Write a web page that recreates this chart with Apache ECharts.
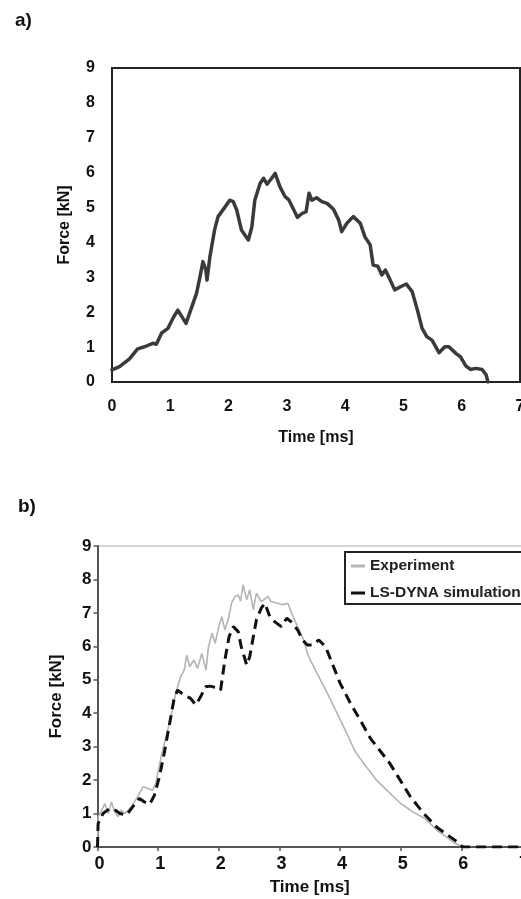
<!DOCTYPE html>
<html>
<head>
<meta charset="utf-8">
<script src="https://cdn.jsdelivr.net/npm/echarts@6/dist/echarts.min.js"></script>
<style>
  html, body { margin: 0; padding: 0; background: #fff; }
  #chart { width: 521px; height: 899px; }
</style>
</head>
<body>
<div id="chart"></div>
<script>
// panel a) - measured force
var aTime = [0.0, 0.13, 0.30, 0.44, 0.56, 0.70, 0.76, 0.85, 0.96, 1.06, 1.13, 1.27, 1.36, 1.45, 1.51, 1.56, 1.61, 1.63, 1.68, 1.76,
  1.82, 1.94, 2.02, 2.08, 2.14, 2.22, 2.34, 2.40, 2.45, 2.54, 2.60, 2.66, 2.74, 2.80, 2.88, 2.97, 3.03, 3.12, 3.18, 3.26,
  3.33, 3.38, 3.43, 3.51, 3.60, 3.69, 3.80, 3.89, 3.94, 4.03, 4.14, 4.26, 4.34, 4.43, 4.48, 4.56, 4.63, 4.69, 4.76, 4.85,
  4.95, 5.05, 5.15, 5.24, 5.32, 5.40, 5.49, 5.61, 5.71, 5.78, 5.90, 5.98, 6.07, 6.15, 6.24, 6.35, 6.42, 6.45];
var aForce = [0.35, 0.44, 0.66, 0.95, 1.01, 1.11, 1.08, 1.40, 1.54, 1.87, 2.06, 1.68, 2.11, 2.54, 3.02, 3.45, 3.21, 2.92, 3.59, 4.36,
  4.74, 5.02, 5.21, 5.17, 4.93, 4.36, 4.07, 4.45, 5.21, 5.69, 5.84, 5.67, 5.84, 5.98, 5.60, 5.31, 5.23, 4.93, 4.72, 4.83,
  4.88, 5.41, 5.21, 5.28, 5.17, 5.12, 4.95, 4.64, 4.31, 4.55, 4.74, 4.55, 4.16, 3.93, 3.35, 3.32, 3.07, 3.21, 2.97, 2.64,
  2.73, 2.81, 2.59, 2.06, 1.54, 1.30, 1.20, 0.84, 1.01, 1.01, 0.82, 0.72, 0.46, 0.36, 0.39, 0.36, 0.20, 0.0];

// panel b) - experiment
var expTime = [0.0, 0.01, 0.07, 0.12, 0.18, 0.23, 0.28, 0.34, 0.39, 0.45, 0.56, 0.66, 0.75, 0.83, 0.91, 0.96, 1.05, 1.13, 1.21, 1.29,
  1.37, 1.43, 1.47, 1.52, 1.59, 1.65, 1.72, 1.79, 1.83, 1.89, 1.94, 2.00, 2.05, 2.10, 2.16, 2.21, 2.27, 2.32, 2.36, 2.40,
  2.46, 2.51, 2.57, 2.62, 2.70, 2.81, 2.86, 2.97, 3.05, 3.14, 3.19, 3.30, 3.41, 3.46, 3.51, 3.62, 3.79, 3.95, 4.11, 4.25,
  4.41, 4.60, 4.80, 5.00, 5.20, 5.40, 5.60, 5.75, 5.88, 6.00];
var expForce = [0.0, 0.9, 1.1, 1.3, 1.0, 1.35, 1.06, 0.91, 1.1, 1.0, 1.2, 1.5, 1.8, 1.75, 1.7, 1.9, 2.7, 3.3, 3.9, 4.6,
  5.09, 5.29, 5.74, 5.39, 5.59, 5.34, 5.79, 5.29, 5.99, 6.39, 6.09, 6.59, 6.89, 6.49, 6.84, 7.29, 7.49, 7.54, 7.35, 7.84,
  7.39, 7.69, 7.09, 7.59, 7.34, 7.49, 7.34, 7.29, 7.24, 7.29, 7.04, 6.59, 6.14, 5.79, 5.59, 5.19, 4.6, 4.0, 3.4, 2.85,
  2.45, 2.0, 1.65, 1.3, 1.05, 0.85, 0.5, 0.3, 0.12, 0.02];

// panel b) - LS-DYNA simulation
var simTime = [0.0, 0.01, 0.09, 0.20, 0.28, 0.37, 0.48, 0.58, 0.69, 0.77, 0.86, 0.94, 1.02, 1.10, 1.18, 1.26, 1.32, 1.43, 1.53, 1.62,
  1.70, 1.78, 1.86, 1.94, 2.03, 2.10, 2.17, 2.24, 2.32, 2.37, 2.46, 2.51, 2.57, 2.62, 2.70, 2.76, 2.84, 2.92, 3.03, 3.12,
  3.19, 3.30, 3.38, 3.46, 3.54, 3.65, 3.76, 3.87, 4.00, 4.17, 4.33, 4.50, 4.65, 4.82, 4.94, 5.16, 5.38, 5.59, 5.81, 5.95,
  6.02, 7.0];
var simForce = [0.0, 0.7, 1.0, 1.15, 1.12, 1.0, 0.96, 1.2, 1.45, 1.35, 1.28, 1.55, 2.1, 2.8, 3.6, 4.4, 4.69, 4.54, 4.45, 4.25,
  4.49, 4.79, 4.81, 4.77, 4.69, 5.59, 6.29, 6.59, 6.44, 5.99, 5.44, 5.69, 6.29, 6.79, 7.14, 7.29, 6.89, 6.74, 6.59, 6.84,
  6.74, 6.49, 6.19, 6.04, 6.04, 6.19, 5.99, 5.49, 4.9, 4.3, 3.8, 3.25, 2.9, 2.5, 2.15, 1.5, 1.0, 0.6, 0.31, 0.13,
  0.0, 0.0];

function pairs(xs, ys) {
  return xs.map(function (x, i) { return [x, ys[i]]; });
}

var font = 'Liberation Sans, Arial, sans-serif';
var chart = echarts.init(document.getElementById('chart'));

var option = {
  animation: false,
  backgroundColor: '#fff',
  title: [
    { text: 'a)', left: 10, top: 6, textStyle: { fontFamily: font, fontSize: 19, fontWeight: 'bold', color: '#111' } },
    { text: 'b)', left: 13, top: 492, textStyle: { fontFamily: font, fontSize: 19, fontWeight: 'bold', color: '#111' } }
  ],
  legend: {
    data: [
      { name: 'Experiment', icon: 'rect', itemStyle: { color: '#b4b4b4' } },
      { name: 'LS-DYNA simulation', icon: 'rect', itemStyle: { color: '#111' } }
    ],
    orient: 'vertical',
    left: 345,
    top: 552,
    padding: [6, 40, 3, 6],
    itemWidth: 14,
    itemHeight: 3,
    itemGap: 11,
    borderColor: '#222',
    borderWidth: 2,
    backgroundColor: '#fff',
    textStyle: { fontFamily: font, fontSize: 15.5, lineHeight: 16, fontWeight: 'bold', color: '#222' }
  },
  grid: [
    { left: 112, right: 1, top: 68, height: 314, outerBoundsMode: 'none', show: true, borderColor: '#222', borderWidth: 2 },
    { left: 97.5, right: -1, top: 546, height: 301, outerBoundsMode: 'none', show: true, borderColor: '#aaa', borderWidth: 1 }
  ],
  xAxis: [
    {
      gridIndex: 0, type: 'value', min: 0, max: 7, interval: 1,
      name: 'Time [ms]', nameLocation: 'middle', nameGap: 48,
      nameTextStyle: { fontFamily: font, fontSize: 16, fontWeight: 'bold', color: '#111' },
      axisLine: { show: true, lineStyle: { color: '#222', width: 2 } },
      axisTick: { show: false },
      splitLine: { show: false },
      axisLabel: { margin: 17, fontFamily: font, fontSize: 16, fontWeight: 'bold', color: '#111', showMaxLabel: true }
    },
    {
      gridIndex: 1, type: 'value', min: 0, max: 7, interval: 1,
      name: 'Time [ms]', nameLocation: 'middle', nameGap: 32,
      nameTextStyle: { fontFamily: font, fontSize: 17, fontWeight: 'bold', color: '#111' },
      axisLine: { show: true, lineStyle: { color: '#555', width: 2 } },
      axisTick: { show: true, inside: false, length: 4, lineStyle: { color: '#555', width: 1.5 } },
      splitLine: { show: false },
      axisLabel: { margin: 8, padding: [0, 0, 0, 4], fontFamily: font, fontSize: 18, fontWeight: 'bold', color: '#111', showMaxLabel: true }
    }
  ],
  yAxis: [
    {
      gridIndex: 0, type: 'value', min: 0, max: 9, interval: 1,
      name: 'Force [kN]', nameLocation: 'middle', nameGap: 39,
      nameTextStyle: { fontFamily: font, fontSize: 16, fontWeight: 'bold', color: '#111' },
      axisLine: { show: true, lineStyle: { color: '#222', width: 2 } },
      axisTick: { show: false },
      splitLine: { show: false },
      axisLabel: { margin: 17, fontFamily: font, fontSize: 16, fontWeight: 'bold', color: '#111' }
    },
    {
      gridIndex: 1, type: 'value', min: 0, max: 9, interval: 1,
      name: 'Force [kN]', nameLocation: 'middle', nameGap: 33,
      nameTextStyle: { fontFamily: font, fontSize: 17, fontWeight: 'bold', color: '#111' },
      axisLine: { show: true, lineStyle: { color: '#555', width: 2 } },
      axisTick: { show: true, inside: false, length: 4, lineStyle: { color: '#555', width: 1.5 } },
      splitLine: { show: false },
      axisLabel: { margin: 6, fontFamily: font, fontSize: 17, fontWeight: 'bold', color: '#111' }
    }
  ],
  series: [
    {
      name: 'Measured',
      type: 'line',
      xAxisIndex: 0, yAxisIndex: 0,
      symbol: 'none',
      data: pairs(aTime, aForce),
      lineStyle: { color: '#3a3a3a', width: 3.5, join: 'round', cap: 'round' }
    },
    {
      name: 'Experiment',
      type: 'line',
      xAxisIndex: 1, yAxisIndex: 1,
      symbol: 'none',
      data: pairs(expTime, expForce),
      itemStyle: { color: '#b4b4b4' },
      lineStyle: { color: '#b4b4b4', width: 1.6 }
    },
    {
      name: 'LS-DYNA simulation',
      type: 'line',
      xAxisIndex: 1, yAxisIndex: 1,
      symbol: 'none',
      data: pairs(simTime, simForce),
      itemStyle: { color: '#111' },
      lineStyle: { color: '#111', width: 3, type: [10, 6] }
    }
  ]
};

chart.setOption(option);
</script>
</body>
</html>
